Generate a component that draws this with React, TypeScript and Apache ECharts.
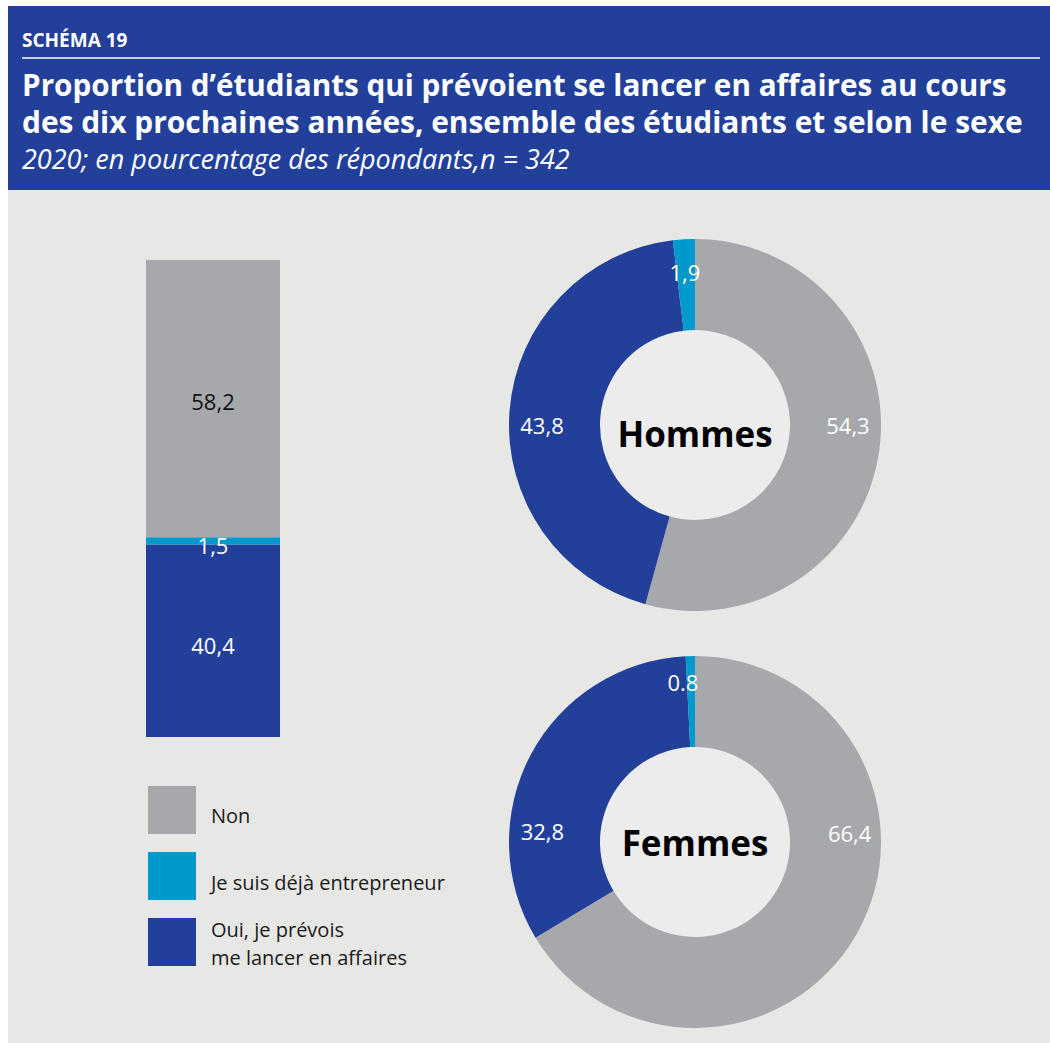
import React, { useEffect, useRef } from "react";
import * as echarts from "echarts";

const categories = ["Non", "Je suis déjà entrepreneur", "Oui, je prévois\nme lancer en affaires"];
const colors = ["#a7a8ab", "#0099cc", "#22409a"];
const ensembleValues = [58.2, 1.5, 40.4];
const ensembleLabels = ["58,2", "1,5", "40,4"];
const hommesValues = [54.3, 43.8, 1.9];
const hommesLabels = ["54,3", "43,8", "1,9"];
const hommesOrder = [0, 2, 1];
const femmesValues = [66.4, 32.8, 0.8];
const femmesLabels = ["66,4", "32,8", "0.8"];
const femmesOrder = [0, 2, 1];

const FONT = "Open Sans";
const R0 = 95;
const R1 = 186;

function pieSeries(name: string, cy: number, values: number[], labels: string[], order: number[], targets: number[][]) {
  const total = values.reduce((a, b) => a + b, 0);
  let cum = 0;
  const mid = (R0 + R1) / 2;
  const data = values.map((v, i) => {
    const f = (cum + v / 2) / total;
    cum += v;
    const th = f * Math.PI * 2;
    const px = mid * Math.sin(th);
    const py = -mid * Math.cos(th);
    const t = targets[i];
    return {
      name: categories[order[i]],
      value: v,
      itemStyle: { color: colors[order[i]] },
      label: {
        show: true,
        position: "inside",
        formatter: labels[i],
        offset: [t[0] - px, t[1] - py],
        color: "#ffffff",
        fontSize: 22,
        fontFamily: FONT,
      },
    };
  });
  return {
    type: "pie",
    name,
    center: [695, cy],
    radius: [R0, R1],
    startAngle: 90,
    clockwise: true,
    avoidLabelOverlap: false,
    silent: true,
    labelLine: { show: false },
    data,
  };
}

export default function App() {
  const ref = useRef<HTMLDivElement>(null);
  useEffect(() => {
    const chart = echarts.init(ref.current!, null, { renderer: "svg" });
    const barOrder = [2, 1, 0];
    const barSeries = barOrder.map((ci) => ({
      type: "bar",
      name: categories[ci],
      stack: "total",
      barWidth: "100%",
      data: [ensembleValues[ci]],
      itemStyle: { color: colors[ci] },
      label: {
        show: true,
        position: "inside",
        formatter: ensembleLabels[ci],
        color: ci === 0 ? "#111111" : "#ffffff",
        fontSize: 22,
        fontFamily: FONT,
        offset: [0, ci === 0 ? 2 : 4],
      },
      silent: true,
    }));
    const total = ensembleValues.reduce((a, b) => a + b, 0);
    const legendTop = [786, 852, 918];
    const legendTextY = [815, 882, 929];
    const legendItems: any[] = [];
    categories.forEach((c, i) => {
      legendItems.push({ type: "rect", shape: { x: 148, y: legendTop[i], width: 48, height: 48 }, style: { fill: colors[i] } });
      c.split("\n").forEach((line, j) => {
        legendItems.push({
          type: "text",
          x: 211,
          y: legendTextY[i] + j * 28,
          style: { text: line, fill: "#1a1a1a", font: `20px '${FONT}'`, verticalAlign: "middle" },
        });
      });
    });
    chart.setOption({
      animation: false,
      backgroundColor: "#ffffff",
      grid: { left: 146, top: 260, width: 134, height: 477 },
      xAxis: { type: "category", data: ["Ensemble"], show: false },
      yAxis: { type: "value", min: 0, max: total, show: false },
      graphic: [
        { type: "rect", z: -10, shape: { x: 8, y: 6, width: 1042, height: 184 }, style: { fill: "#22409a" } },
        { type: "rect", z: -10, shape: { x: 8, y: 190, width: 1042, height: 853 }, style: { fill: "#e7e7e6" } },
        { type: "line", shape: { x1: 22, y1: 58, x2: 1040, y2: 58 }, style: { stroke: "#ffffff", lineWidth: 1.5 } },
        { type: "text", x: 22, y: 40, style: { text: "SCHÉMA 19", fill: "#ffffff", font: `bold 19px '${FONT}'`, verticalAlign: "middle" } },
        { type: "text", x: 22, y: 84, style: { text: "Proportion d’étudiants qui prévoient se lancer en affaires au cours", fill: "#ffffff", font: `bold 29.7px '${FONT}'`, verticalAlign: "middle" } },
        { type: "text", x: 22, y: 121, style: { text: "des dix prochaines années, ensemble des étudiants et selon le sexe", fill: "#ffffff", font: `bold 29.9px '${FONT}'`, verticalAlign: "middle" } },
        { type: "text", x: 22, y: 158, style: { text: "2020; en pourcentage des répondants,n = 342", fill: "#ffffff", font: `italic 27px '${FONT}'`, verticalAlign: "middle" } },
        { type: "circle", z: -5, shape: { cx: 695, cy: 425, r: R0 }, style: { fill: "#ececec" } },
        { type: "circle", z: -5, shape: { cx: 695, cy: 842, r: R0 }, style: { fill: "#ececec" } },
        { type: "text", x: 695, y: 433, style: { text: "Hommes", fill: "#000000", font: `bold 35px '${FONT}'`, align: "center", verticalAlign: "middle" } },
        { type: "text", x: 695, y: 842, style: { text: "Femmes", fill: "#000000", font: `bold 35px '${FONT}'`, align: "center", verticalAlign: "middle" } },
        ...legendItems,
      ],
      series: [
        ...barSeries,
        pieSeries("Hommes", 425, hommesValues, hommesLabels, hommesOrder, [[150, 0], [-150, 0], [-10, -150]]),
        pieSeries("Femmes", 842, femmesValues, femmesLabels, femmesOrder, [[152, -10], [-150, -10], [-12, -157]]),
      ],
    });
    return () => chart.dispose();
  }, []);
  return <div ref={ref} style={{ position: "fixed", left: 0, top: 0, width: 1050, height: 1043 }} />;
}
